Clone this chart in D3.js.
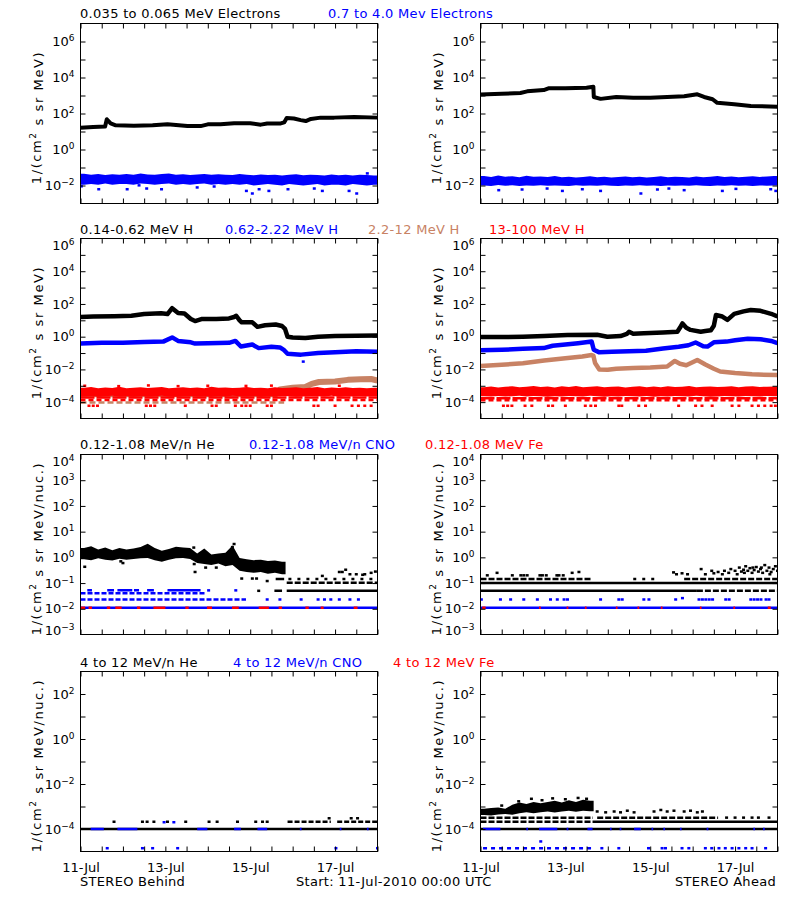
<!DOCTYPE html>
<html><head><meta charset="utf-8">
<script src="https://cdn.jsdelivr.net/npm/d3@7"></script>
<style>
body{margin:0;background:#fff;}
text{font-family:"DejaVu Sans",sans-serif;}
</style></head><body>
<svg id="c" width="800" height="900" xmlns="http://www.w3.org/2000/svg"></svg>
<script>
// ---------------- DATA (time = days since 11-Jul-2010 00:00 UTC) ----------------
const row1Titles = ["0.035 to 0.065 MeV Electrons", "0.7 to 4.0 Mev Electrons"];
const row2Titles = ["0.14-0.62 MeV H", "0.62-2.22 MeV H", "2.2-12 MeV H", "13-100 MeV H"];
const row3Titles = ["0.12-1.08 MeV/n He", "0.12-1.08 MeV/n CNO", "0.12-1.08 MeV Fe"];
const row4Titles = ["4 to 12 MeV/n He", "4 to 12 MeV/n CNO", "4 to 12 MeV Fe"];
const bottomTexts = ["STEREO Behind", "Start: 11-Jul-2010 00:00 UTC", "STEREO Ahead"];
const xLabelDays = [0, 2, 4, 6];

// Row 1: electrons
const behElecLowKnots = [[0,16],[0.3,18],[0.58,19],[0.62,48],[0.71,28],[0.83,22],[1.26,21],[1.7,22],[2.05,25],[2.52,20],[2.83,20],[3.0,25],[3.3,25],[3.62,29],[4.0,29],[4.25,24],[4.4,28],[4.72,28],[4.8,32],[4.86,57],[5.03,53],[5.19,43],[5.31,38],[5.43,50],[5.66,59],[5.98,59],[6.45,64],[7.0,59]];
const behElecHighLo = [0.011,0.012,0.011,0.013,0.011,0.012,0.012,0.011,0.013,0.012,0.011,0.012,0.013,0.011,0.012,0.011,0.012,0.013,0.011,0.012,0.011,0.012,0.011,0.012,0.010,0.011,0.012,0.011,0.010,0.012,0.011,0.010,0.011,0.012,0.010,0.011,0.011,0.010,0.012,0.011,0.010,0.011];
const behElecHighHi = [0.045,0.040,0.043,0.038,0.042,0.039,0.044,0.040,0.046,0.041,0.039,0.043,0.047,0.040,0.042,0.038,0.041,0.044,0.039,0.042,0.040,0.038,0.043,0.039,0.037,0.041,0.038,0.040,0.036,0.039,0.042,0.037,0.040,0.038,0.036,0.041,0.037,0.039,0.036,0.040,0.038,0.036];
const behElecHighOut = [[0.02,0.009],[0.43,0.0062],[1.10,0.0062],[1.38,0.0102],[1.56,0.0068],[1.91,0.0062],[2.75,0.0078],[3.15,0.0088],[3.91,0.0050],[4.05,0.0036],[4.21,0.0062],[4.44,0.0050],[4.89,0.0062],[5.51,0.0068],[5.70,0.0050],[6.33,0.0050],[6.51,0.0036],[6.76,0.047]];

const ahdElecLowKnots = [[0,1130],[0.5,1250],[0.94,1380],[1.1,1700],[1.49,2000],[1.6,2500],[2.0,2550],[2.5,2700],[2.62,3000],[2.66,3100],[2.67,830],[2.83,650],[3.2,830],[3.6,740],[4.0,740],[4.4,830],[4.8,900],[5.11,1170],[5.27,830],[5.47,620],[5.58,390],[5.98,330],[6.37,260],[7.0,240]];
const ahdElecHighLo = [0.0100,0.0095,0.0105,0.0098,0.0102,0.0095,0.0100,0.0097,0.0104,0.0096,0.0100,0.0098,0.0095,0.0102,0.0097,0.0100,0.0096,0.0103,0.0098,0.0095,0.0100,0.0097,0.0102,0.0096,0.0099,0.0095,0.0101,0.0097,0.0100,0.0096,0.0103,0.0098,0.0095,0.0100,0.0097,0.0102,0.0096,0.0099,0.0095,0.0101,0.0097,0.0100];
const ahdElecHighHi = [0.034,0.030,0.036,0.031,0.033,0.029,0.035,0.031,0.032,0.030,0.034,0.029,0.031,0.028,0.030,0.033,0.029,0.031,0.028,0.030,0.032,0.029,0.031,0.028,0.030,0.033,0.029,0.031,0.030,0.028,0.032,0.029,0.031,0.034,0.030,0.032,0.029,0.031,0.033,0.030,0.032,0.034];
const ahdElecHighOut = [[0.43,0.0055],[0.98,0.0060],[1.57,0.0068],[1.93,0.0050],[2.40,0.0062],[2.83,0.0050],[3.78,0.0036],[4.17,0.0060],[4.44,0.0068],[4.80,0.0055],[5.70,0.0050],[6.02,0.0065],[6.84,0.0062],[6.96,0.0050]];

// Row 2: protons
const behH1Knots = [[0,16],[0.3,17],[0.8,18],[1.2,19],[1.5,24],[1.9,27],[2.05,24],[2.16,55],[2.3,28],[2.45,26],[2.6,12],[2.7,9],[2.85,12],[3.2,12],[3.5,13],[3.62,16],[3.67,19],[3.75,10],[3.8,7.5],[4.05,7.5],[4.17,4],[4.35,5],[4.6,5.5],[4.75,4.5],[4.82,3],[4.88,1.0],[5.0,0.88],[5.3,0.82],[5.6,1.0],[6.0,1.1],[6.5,1.15],[7.0,1.2]];
const behH2Knots = [[0,0.38],[0.5,0.42],[1.0,0.42],[1.5,0.48],[1.95,0.50],[2.16,0.9],[2.3,0.55],[2.6,0.45],[2.7,0.38],[3.0,0.40],[3.5,0.42],[3.65,0.55],[3.78,0.25],[4.05,0.33],[4.2,0.20],[4.5,0.24],[4.7,0.22],[4.8,0.15],[4.88,0.09],[5.2,0.08],[5.6,0.10],[6.0,0.11],[6.5,0.13],[7.0,0.12]];
const behH2Out = [[5.25,0.03]];
const behH3Knots = [[0,3e-4],[4.6,3e-4],[4.7,6e-4],[5.0,7.5e-4],[5.3,8.5e-4],[5.45,1.3e-3],[5.62,1.7e-3],[6.0,1.8e-3],[6.3,2.3e-3],[6.6,2.5e-3],[6.85,2.6e-3],[7.0,2.1e-3]];
const behH3Levels = [[0,4.8,9.5e-5]];
const behH4Lo = [2.2e-4,2.4e-4,2.1e-4,2.3e-4,2.5e-4,2.2e-4,2.3e-4,2.1e-4,2.4e-4,2.2e-4,2.3e-4,2.5e-4,2.2e-4,2.1e-4,2.3e-4,2.4e-4,2.2e-4,2.3e-4,2.1e-4,2.4e-4,2.2e-4,2.5e-4,2.3e-4,2.2e-4,2.4e-4,2.1e-4,2.3e-4,2.2e-4,2.4e-4,2.3e-4,2.1e-4,2.2e-4,2.4e-4,2.3e-4,2.2e-4,2.5e-4,2.1e-4,2.3e-4,2.2e-4,2.4e-4,2.2e-4,2.3e-4];
const behH4Hi = [7.6e-4,8.3e-4,7.1e-4,7.9e-4,7.3e-4,8.6e-4,7.0e-4,7.7e-4,8.1e-4,7.2e-4,7.8e-4,8.4e-4,7.1e-4,7.6e-4,8.0e-4,7.4e-4,7.9e-4,7.0e-4,8.7e-4,7.5e-4,7.8e-4,7.2e-4,7.7e-4,8.3e-4,7.2e-4,7.6e-4,7.0e-4,8.0e-4,7.4e-4,7.7e-4,8.2e-4,7.1e-4,7.5e-4,8.4e-4,7.0e-4,7.8e-4,7.3e-4,8.0e-4,7.2e-4,7.7e-4,7.1e-4,7.6e-4];
const behH4Solid = [[0,7,1.9e-4]];
const behH4Dashed = [[0,7,1.35e-4]];
const behH4Dots = [[0.1,1.0e-3],[0.9,9.5e-4],[1.6,1.05e-3],[2.3,9.5e-4],[3.0,1.0e-3],[3.9,9.8e-4],[4.5,1.02e-3],[6.1,1.0e-3],[0.2,6e-5],[0.3,6e-5],[0.4,6e-5],[1.55,6e-5],[1.65,6e-5],[1.75,6e-5],[2.47,6e-5],[3.1,6e-5],[3.2,6e-5],[3.65,6e-5],[3.8,6e-5],[3.9,6e-5],[4.0,6e-5],[4.4,6e-5],[4.5,6e-5],[5.5,6e-5],[5.6,6e-5],[6.0,6e-5],[6.4,6e-5],[6.55,6e-5],[6.7,6e-5],[6.85,6e-5]];

const ahdH1Knots = [[0,0.95],[0.5,0.95],[1.0,1.0],[1.5,1.1],[2.05,1.25],[2.75,1.3],[2.99,1.0],[3.3,1.1],[3.45,1.5],[3.5,2.0],[3.6,1.5],[3.85,1.6],[4.3,1.8],[4.64,2.0],[4.7,3.5],[4.76,6.5],[4.85,3.5],[4.95,2.6],[5.19,2.0],[5.3,2.2],[5.43,2.5],[5.5,4.7],[5.55,21],[5.7,17],[5.82,10.6],[5.98,25],[6.2,35],[6.37,43],[6.6,38],[6.85,25],[7.0,17]];
const ahdH2Knots = [[0,0.15],[0.5,0.16],[1.0,0.18],[1.49,0.20],[1.7,0.28],[2.0,0.33],[2.3,0.40],[2.62,0.50],[2.67,0.16],[2.8,0.11],[3.1,0.12],[3.5,0.13],[3.9,0.14],[4.3,0.19],[4.67,0.24],[4.9,0.30],[5.07,0.44],[5.25,0.26],[5.35,0.25],[5.5,0.45],[5.8,0.50],[6.0,0.60],[6.3,0.75],[6.6,0.70],[6.85,0.55],[7.0,0.40]];
const ahdH3Knots = [[0,0.016],[0.5,0.019],[1.0,0.024],[1.5,0.035],[2.0,0.048],[2.4,0.062],[2.62,0.075],[2.66,0.07],[2.7,0.025],[2.8,0.010],[3.0,0.0095],[3.2,0.011],[3.6,0.012],[4.0,0.013],[4.4,0.015],[4.58,0.033],[4.7,0.022],[4.85,0.018],[5.11,0.038],[5.3,0.020],[5.5,0.011],[5.65,0.0075],[6.0,0.006],[6.4,0.005],[7.0,0.0045]];
const ahdH4Lo = [2.3e-4,2.2e-4,2.4e-4,2.2e-4,2.3e-4,2.5e-4,2.2e-4,2.4e-4,2.3e-4,2.1e-4,2.3e-4,2.2e-4,2.4e-4,2.3e-4,2.2e-4,2.5e-4,2.3e-4,2.1e-4,2.3e-4,2.2e-4,2.4e-4,2.3e-4,2.2e-4,2.4e-4,2.1e-4,2.3e-4,2.2e-4,2.4e-4,2.3e-4,2.2e-4,2.5e-4,2.3e-4,2.1e-4,2.2e-4,2.4e-4,2.3e-4,2.2e-4,2.4e-4,2.3e-4,2.2e-4,2.4e-4,2.3e-4];
const ahdH4Hi = [8.2e-4,9.0e-4,7.8e-4,8.6e-4,9.4e-4,8.0e-4,8.8e-4,9.6e-4,8.3e-4,8.9e-4,7.9e-4,9.2e-4,8.5e-4,9.8e-4,8.1e-4,8.7e-4,9.3e-4,8.0e-4,8.6e-4,9.1e-4,7.8e-4,8.8e-4,9.5e-4,8.2e-4,8.9e-4,8.0e-4,9.2e-4,8.4e-4,8.7e-4,9.6e-4,8.1e-4,8.8e-4,9.0e-4,8.3e-4,8.6e-4,9.3e-4,8.0e-4,8.9e-4,9.4e-4,8.5e-4,8.8e-4,9.1e-4];
const ahdH4Solid = [[0,7,1.7e-4]];
const ahdH4Dashed = [[0,7,1.3e-4]];
const ahdH4Dots = [[0.54,6e-5],[0.64,6e-5],[0.74,6e-5],[1.05,6e-5],[1.21,6e-5],[1.6,6e-5],[1.7,6e-5],[2.0,6e-5],[2.47,6e-5],[2.6,6e-5],[2.71,6e-5],[3.26,6e-5],[3.33,6e-5],[3.73,6e-5],[3.89,6e-5],[4.67,6e-5],[5.07,6e-5],[5.22,6e-5],[5.46,6e-5],[5.93,6e-5],[6.09,6e-5],[6.4,6e-5],[6.55,6e-5],[6.7,6e-5],[6.85,6e-5],[6.95,6e-5]];

// Row 3: 0.12-1.08 MeV/n ions
const behHeLo = [0.85,0.78,0.92,0.80,0.76,0.88,0.80,0.86,0.92,0.95,0.78,0.68,0.80,0.92,0.95,0.86,0.60,0.55,0.50,0.58,0.45,0.50,0.30,0.27,0.25,0.27,0.23,0.25,0.22];
const behHeHi = [2.3,2.7,2.0,2.4,1.9,2.3,2.0,2.2,2.5,3.4,2.3,1.8,2.1,2.6,2.4,2.3,1.4,2.2,1.3,1.4,1.5,2.9,0.95,0.85,0.78,0.80,0.72,0.76,0.68];
const behHeDots = [[0.1,0.43],[0.95,0.7],[1.0,0.6],[2.67,2.4],[2.68,0.55],[2.7,0.27],[2.95,0.4],[3.2,0.4],[3.62,3.3],[3.58,2.5],[3.8,0.15],[4.05,0.15],[4.15,0.15],[4.2,0.05],[4.4,0.12],[5.7,0.19],[6.1,0.27],[6.17,0.27],[6.25,0.33],[6.35,0.22],[6.5,0.22],[6.65,0.21],[6.7,0.22],[6.85,0.25],[6.95,0.28]];
const behHeSolid = [[4.57,4.75,0.05],[4.86,7,0.05],[4.6,4.8,0.143]];
const behHeDashed = [[4.86,7,0.102]];
const behHeSparse = [[4.9,7,0.143]];
const behCnoSolid = [[0,7,0.011]];
const behCnoDashed = [[0,3.9,0.023],[0,2.97,0.040]];
const behCnoSegs = [[0.16,0.27,0.052],[0.63,0.79,0.052],[0.87,1.22,0.052],[1.26,1.38,0.052],[1.57,1.73,0.052],[2.05,2.83,0.052]];
const behCnoDots = [[3.02,0.052],[3.66,0.052],[4.4,0.023],[4.7,0.023],[5.2,0.023],[5.6,0.023],[5.75,0.023],[5.9,0.023],[6.1,0.023],[6.35,0.023],[6.55,0.023]];
const behFeSegs = [[0,0.11,0.011],[0.19,0.27,0.011],[0.62,0.70,0.011],[0.82,0.97,0.011],[1.33,1.41,0.011],[1.72,2.0,0.011],[2.47,2.55,0.011],[2.98,3.10,0.011],[3.57,3.73,0.011],[4.20,4.44,0.011],[4.67,4.75,0.011],[5.30,5.38,0.011],[5.66,5.73,0.011],[6.44,6.53,0.011]];

const ahdHeSolid = [[0,7,0.10],[0,5.1,0.05]];
const ahdHeDashed = [[5.1,7,0.05],[0,2.6,0.143],[4.8,7,0.143]];
const ahdHeSparse = [[3.6,4.1,0.143]];
const ahdHeDots = [[0.16,0.2],[0.39,0.25],[0.75,0.2],[0.95,0.2],[1.02,0.2],[1.1,0.2],[1.4,0.2],[1.46,0.2],[1.55,0.2],[1.8,0.2],[1.85,0.2],[1.95,0.2],[2.16,0.25],[2.32,0.27],[4.55,0.26],[4.62,0.22],[4.75,0.24],[4.88,0.22],[5.2,0.35],[5.3,0.22],[5.45,0.3],[5.5,0.24],[5.6,0.27],[5.7,0.22],[5.75,0.3],[5.85,0.25],[5.9,0.35],[6.0,0.3],[6.05,0.22],[6.1,0.4],[6.15,0.28],[6.2,0.33],[6.22,0.25],[6.25,0.45],[6.3,0.3],[6.35,0.38],[6.4,0.25],[6.42,0.4],[6.45,0.32],[6.5,0.42],[6.55,0.28],[6.6,0.35],[6.62,0.4],[6.65,0.25],[6.7,0.5],[6.75,0.3],[6.8,0.4],[6.82,0.22],[6.85,0.27],[6.9,0.35],[6.95,0.45],[7.0,0.3]];
const ahdCnoSolid = [[0,7,0.011]];
const ahdCnoDots = [[0.02,0.023],[0.47,0.023],[0.71,0.023],[1.02,0.023],[1.34,0.023],[1.65,0.023],[1.81,0.023],[1.97,0.023],[2.05,0.023],[2.83,0.023],[3.26,0.023],[3.34,0.023],[3.85,0.023],[3.97,0.023],[4.6,0.023],[4.76,0.026],[5.15,0.023],[5.23,0.023],[5.31,0.023],[5.39,0.023],[5.47,0.023],[5.78,0.023],[5.86,0.023],[6.37,0.023],[6.45,0.023],[6.53,0.023],[6.61,0.023],[6.73,0.023],[6.8,0.023]];
const ahdFeSegs = [[0.04,0.12,0.011],[1.38,1.42,0.011],[2.03,2.07,0.011],[2.46,2.50,0.011],[3.19,3.23,0.011],[3.70,3.74,0.011],[4.25,4.29,0.011],[5.17,5.21,0.011],[5.96,6.0,0.011],[6.77,6.84,0.011]];

// Row 4: 4-12 MeV/n ions
const behHe4Solid = [[0,7,1e-4]];
const behHe4Dashed = [[4.88,5.9,2.1e-4],[6.05,7,2.1e-4]];
const behHe4Dots = [[0.79,2.1e-4],[1.46,2.1e-4],[1.57,2.1e-4],[1.73,2.1e-4],[2.05,2.1e-4],[2.48,2.1e-4],[3.03,2.1e-4],[3.22,2.1e-4],[3.70,2.1e-4],[4.13,2.1e-4],[4.29,2.1e-4],[4.40,2.1e-4],[5.86,3e-4],[6.38,3e-4],[6.53,3e-4]];
const behCno4Segs = [[0.24,0.55,1e-4],[0.87,1.34,1e-4],[2.75,2.99,1e-4],[3.62,3.78,1e-4],[4.17,4.4,1e-4],[5.17,5.21,1e-4],[6.11,6.15,1e-4],[6.75,6.79,1e-4]];
const behCno4Dots = [[1.97,2e-4],[2.2,2e-4],[0.63,1.4e-5],[1.46,1.4e-5],[1.70,1.4e-5],[2.29,1.4e-5],[6.02,1.4e-5],[7.0,1.4e-5]];

const ahdHe4Lo = [4.2e-4,4.0e-4,4.4e-4,4.6e-4,4.3e-4,5.0e-4,5.5e-4,5.0e-4,5.6e-4,6.0e-4,5.4e-4,6.0e-4,6.4e-4,5.8e-4,6.5e-4,6.2e-4];
const ahdHe4Hi = [8.0e-4,8.5e-4,9.0e-4,8.0e-4,1.2e-3,1.5e-3,1.3e-3,1.6e-3,1.4e-3,1.6e-3,1.8e-3,1.5e-3,1.9e-3,1.6e-3,2.0e-3,1.8e-3];
const ahdHe4Solid = [[0,7,1e-4],[2.65,7,2.1e-4]];
const ahdHe4Dashed = [[0,2.65,2.1e-4],[0,2.65,3.2e-4],[2.75,5.6,3.2e-4]];
const ahdHe4Dots = [[0.5,1.1e-3],[0.9,1.7e-3],[1.2,2.2e-3],[1.45,1.9e-3],[1.7,2.3e-3],[2.0,2.1e-3],[2.3,2.4e-3],[2.5,2.2e-3],[2.75,6e-4],[2.95,5.5e-4],[3.15,6e-4],[3.3,5.5e-4],[3.46,6.5e-4],[3.62,5.5e-4],[4.09,6e-4],[4.25,7e-4],[4.4,6e-4],[4.56,6.5e-4],[4.8,6e-4],[4.95,6.5e-4],[5.11,5.5e-4],[5.23,6e-4],[5.8,3.2e-4],[6.0,3.2e-4],[6.2,3.2e-4],[6.4,3.2e-4],[6.55,3.2e-4],[6.8,3.2e-4]];
const ahdCno4Segs = [[0.06,0.47,1e-4],[1.08,1.12,1e-4],[1.38,1.81,1e-4],[2.03,2.07,1e-4],[2.52,2.64,1e-4],[3.05,3.09,1e-4],[3.28,3.32,1e-4],[3.62,3.78,1e-4],[4.03,4.07,1e-4],[4.31,4.35,1e-4],[4.70,4.74,1e-4],[5.33,5.37,1e-4],[6.43,6.47,1e-4],[6.66,6.70,1e-4]];
const ahdCno4Dashed = [[0.06,2.65,1.4e-5]];
const ahdCno4Dots = [[1.42,2.8e-5],[2.86,1.4e-5],[3.26,1.4e-5],[3.96,1.4e-5],[4.28,1.4e-5],[4.36,1.4e-5],[4.75,1.4e-5],[4.91,1.4e-5],[5.30,1.4e-5],[5.45,1.4e-5],[5.62,1.4e-5],[5.77,1.4e-5],[5.93,1.4e-5],[6.09,1.4e-5],[6.25,1.4e-5],[6.40,1.4e-5],[6.72,1.4e-5]];

// ---------------- LAYOUT / STYLE ----------------
const BLACK = "#000000", BLUE = "#0000ff", RED = "#ff0000", BROWN = "#c88264";
const PW = 297, PH = 180;
const colLeft = [80.5, 480.5];
const rowTop = [23.5, 238.5, 454.5, 671.5];
const rowDomains = [[1e-3,1e7],[1e-5,1e6],[1e-3,1e4],[1e-5,1e3]];
const rowTickExp = [[-2,-1,0,1,2,3,4,5,6],[-4,-3,-2,-1,0,1,2,3,4,5],[-2,-1,0,1,2,3],[-4,-3,-2,-1,0,1,2]];
const rowLabelExp = [[-2,0,2,4,6],[-4,-2,0,2,4,6],[-3,-2,-1,0,1,2,3,4],[-4,-2,0,2]];
const FS = 13;

const svg = d3.select("#c");
svg.append("rect").attr("width",800).attr("height",900).attr("fill","#fff");
const t0 = Date.UTC(2010, 6, 11);
const toDate = d => new Date(t0 + d * 864e5);
const fmt = d3.utcFormat("%d-%b");

function makePanel(row, col) {
  const left = colLeft[col], top = rowTop[row];
  const x = d3.scaleUtc().domain([toDate(0), toDate(7)]).range([left, left + PW]);
  const y = d3.scaleLog().domain(rowDomains[row]).range([top + PH, top]);
  const id = "clip" + row + col;
  svg.append("clipPath").attr("id", id).append("rect")
    .attr("x", left).attr("y", top).attr("width", PW).attr("height", PH);
  const g = svg.append("g").attr("clip-path", "url(#" + id + ")");
  return {row, col, left, top, x, y, g};
}

function drawLine(p, knots, color, w) {
  p.g.append("path").datum(knots).attr("fill","none").attr("stroke",color)
    .attr("stroke-width",w).attr("stroke-linejoin","round").attr("stroke-linecap","butt")
    .attr("d", d3.line().x(d => p.x(toDate(d[0]))).y(d => p.y(d[1])));
}
function drawBand(p, start, binW, lo, hi, color) {
  const n = lo.length;
  const pts = [{t:start, lo:lo[0], hi:hi[0]}]
    .concat(lo.map((v,i) => ({t:start+(i+0.5)*binW, lo:v, hi:hi[i]})))
    .concat([{t:start+n*binW, lo:lo[n-1], hi:hi[n-1]}]);
  p.g.append("path").datum(pts).attr("fill",color)
    .attr("d", d3.area().x(d => p.x(toDate(d.t))).y0(d => p.y(d.lo)).y1(d => p.y(d.hi)));
}
function drawDots(p, pts, color) {
  p.g.append("g").selectAll("rect").data(pts).join("rect")
    .attr("x", d => p.x(toDate(d[0])) - 1.5).attr("y", d => p.y(d[1]) - 1.25)
    .attr("width", 3).attr("height", 2.5).attr("fill", color);
}
function drawLevels(p, segs, color, dash) {
  p.g.append("g").selectAll("line").data(segs).join("line")
    .attr("x1", d => p.x(toDate(d[0]))).attr("x2", d => p.x(toDate(d[1])))
    .attr("y1", d => p.y(d[2])).attr("y2", d => p.y(d[2]))
    .attr("stroke", color).attr("stroke-width", 2.5)
    .attr("stroke-dasharray", dash || null);
}

function finishPanel(p, unitTail) {
  const {row, left, top, x, y} = p;
  const tickVals = rowTickExp[row].map(e => Math.pow(10, e));
  const labelVals = rowLabelExp[row].map(e => Math.pow(10, e));
  const dom = rowDomains[row];
  svg.append("rect").attr("x", left).attr("y", top).attr("width", PW).attr("height", PH)
    .attr("fill","none").attr("stroke","#000").attr("stroke-width",1);
  const styleAx = g => { g.select(".domain").remove(); g.attr("font-family", null).attr("font-size", null);
    g.selectAll("line").attr("stroke","#000"); g.selectAll("text").attr("font-size", FS).attr("fill","#000"); };
  // x ticks (every 12 h) bottom and top
  svg.append("g").attr("transform", `translate(0,${top + PH})`)
    .call(d3.axisBottom(x).ticks(d3.utcHour.every(12)).tickSize(-5).tickPadding(11)
      .tickFormat(d => (row === 3 && d.getUTCHours() === 0 && xLabelDays.includes(Math.round((d - t0) / 864e5))) ? fmt(d) : ""))
    .call(styleAx);
  svg.append("g").attr("transform", `translate(0,${top})`)
    .call(d3.axisTop(x).ticks(d3.utcHour.every(12)).tickSize(-5).tickFormat(""))
    .call(styleAx);
  // y ticks left and right
  svg.append("g").attr("transform", `translate(${left},0)`)
    .call(d3.axisLeft(y).tickValues(tickVals).tickSize(-5).tickFormat("")).call(styleAx);
  svg.append("g").attr("transform", `translate(${left + PW},0)`)
    .call(d3.axisRight(y).tickValues(tickVals).tickSize(-5).tickFormat("")).call(styleAx);
  // y labels 10^n (labels sitting on the frame edges are nudged inside, as in the original)
  const lab = svg.append("g").attr("transform", `translate(${left},0)`)
    .call(d3.axisLeft(y).tickValues(labelVals).tickSize(0).tickPadding(6).tickFormat(""))
    .call(styleAx);
  lab.selectAll("text").each(function(d) {
    const e = Math.round(Math.log10(d));
    const t = d3.select(this);
    if (Math.abs(d - dom[1]) / dom[1] < 1e-6) t.attr("y", 7);
    if (Math.abs(d - dom[0]) / dom[0] < 1e-6) t.attr("y", -4.5);
    t.append("tspan").text("10");
    t.append("tspan").attr("dy", "-0.55em").attr("font-size", 9).text(e < 0 ? "\u2212" + (-e) : String(e));
  });
  // y title
  const yt = svg.append("text")
    .attr("transform", `translate(${left - 40},${top + PH / 2 + 4}) rotate(-90)`)
    .attr("text-anchor", "middle").attr("font-size", FS).attr("letter-spacing", 1.6).attr("fill", "#000");
  yt.append("tspan").text("1/(cm");
  yt.append("tspan").attr("dy", "-0.5em").attr("font-size", 9).text("2");
  yt.append("tspan").attr("dy", "0.5em").text(unitTail);
}

function titles(texts, xs, colors, baseline) {
  texts.forEach((s, i) => svg.append("text").attr("x", xs[i]).attr("y", baseline)
    .attr("font-size", FS).attr("letter-spacing", 0.3).attr("fill", colors[i]).text(s));
}

// ---------------- ROW 1 ----------------
titles(row1Titles, [80, 328], [BLACK, BLUE], 18);
{ const p = makePanel(0, 0);
  drawLine(p, behElecLowKnots, BLACK, 4);
  drawBand(p, 0, 1/6, behElecHighLo, behElecHighHi, BLUE);
  drawDots(p, behElecHighOut, BLUE);
  finishPanel(p, " s sr MeV)"); }
{ const p = makePanel(0, 1);
  drawLine(p, ahdElecLowKnots, BLACK, 4);
  drawBand(p, 0, 1/6, ahdElecHighLo, ahdElecHighHi, BLUE);
  drawDots(p, ahdElecHighOut, BLUE);
  finishPanel(p, " s sr MeV)"); }

// ---------------- ROW 2 ----------------
titles(row2Titles, [80, 225, 368, 489], [BLACK, BLUE, BROWN, RED], 233.5);
{ const p = makePanel(1, 0);
  drawLine(p, behH1Knots, BLACK, 4.5);
  drawLine(p, behH2Knots, BLUE, 4.5);
  drawDots(p, behH2Out, BLUE);
  drawLine(p, behH3Knots, BROWN, 6);
  drawLevels(p, behH3Levels, BROWN, "6,3");
  drawBand(p, 0, 1/6, behH4Lo, behH4Hi, RED);
  drawLevels(p, behH4Solid, RED, "14,2");
  drawLevels(p, behH4Dashed, RED, "5,3");
  drawDots(p, behH4Dots, RED);
  finishPanel(p, " s sr MeV)"); }
{ const p = makePanel(1, 1);
  drawLine(p, ahdH1Knots, BLACK, 4.5);
  drawLine(p, ahdH2Knots, BLUE, 4.5);
  drawLine(p, ahdH3Knots, BROWN, 4.5);
  drawBand(p, 0, 1/6, ahdH4Lo, ahdH4Hi, RED);
  drawLevels(p, ahdH4Solid, RED, "14,2");
  drawLevels(p, ahdH4Dashed, RED, "5,3");
  drawDots(p, ahdH4Dots, RED);
  finishPanel(p, " s sr MeV)"); }

// ---------------- ROW 3 ----------------
titles(row3Titles, [80, 249, 425], [BLACK, BLUE, RED], 449);
{ const p = makePanel(2, 0);
  drawBand(p, 0, 1/6, behHeLo, behHeHi, BLACK);
  drawDots(p, behHeDots, BLACK);
  drawLevels(p, behHeSolid, BLACK);
  drawLevels(p, behHeDashed, BLACK, "6,2");
  drawLevels(p, behHeSparse, BLACK, "3,6");
  drawLevels(p, behCnoSolid, BLUE);
  drawLevels(p, behCnoDashed, BLUE, "5,2");
  drawLevels(p, behCnoSegs, BLUE);
  drawDots(p, behCnoDots, BLUE);
  drawLevels(p, behFeSegs, RED);
  finishPanel(p, " s sr MeV/nuc.)"); }
{ const p = makePanel(2, 1);
  drawLevels(p, ahdHeSolid, BLACK);
  drawLevels(p, ahdHeDashed, BLACK, "6,2");
  drawLevels(p, ahdHeSparse, BLACK, "3,6");
  drawDots(p, ahdHeDots, BLACK);
  drawLevels(p, ahdCnoSolid, BLUE);
  drawDots(p, ahdCnoDots, BLUE);
  drawLevels(p, ahdFeSegs, RED);
  finishPanel(p, " s sr MeV/nuc.)"); }

// ---------------- ROW 4 ----------------
titles(row4Titles, [80, 233, 393], [BLACK, BLUE, RED], 666.5);
{ const p = makePanel(3, 0);
  drawLevels(p, behHe4Solid, BLACK);
  drawLevels(p, behHe4Dashed, BLACK, "5,2");
  drawDots(p, behHe4Dots, BLACK);
  drawLevels(p, behCno4Segs, BLUE);
  drawDots(p, behCno4Dots, BLUE);
  finishPanel(p, " s sr MeV/nuc.)"); }
{ const p = makePanel(3, 1);
  drawBand(p, 0, 1/6, ahdHe4Lo, ahdHe4Hi, BLACK);
  drawLevels(p, ahdHe4Solid, BLACK);
  drawLevels(p, ahdHe4Dashed, BLACK, "6,2");
  drawDots(p, ahdHe4Dots, BLACK);
  drawLevels(p, ahdCno4Segs, BLUE);
  drawLevels(p, ahdCno4Dashed, BLUE, "4,4");
  drawDots(p, ahdCno4Dots, BLUE);
  finishPanel(p, " s sr MeV/nuc.)"); }

// ---------------- bottom text ----------------
svg.append("text").attr("x", 80).attr("y", 886).attr("font-size", FS).attr("letter-spacing", 0.3).text(bottomTexts[0]);
svg.append("text").attr("x", 296).attr("y", 886).attr("font-size", FS).attr("letter-spacing", 0.3).text(bottomTexts[1]);
svg.append("text").attr("x", 776).attr("y", 886).attr("font-size", FS).attr("letter-spacing", 0.3).attr("text-anchor", "end").text(bottomTexts[2]);
</script>
</body></html>
